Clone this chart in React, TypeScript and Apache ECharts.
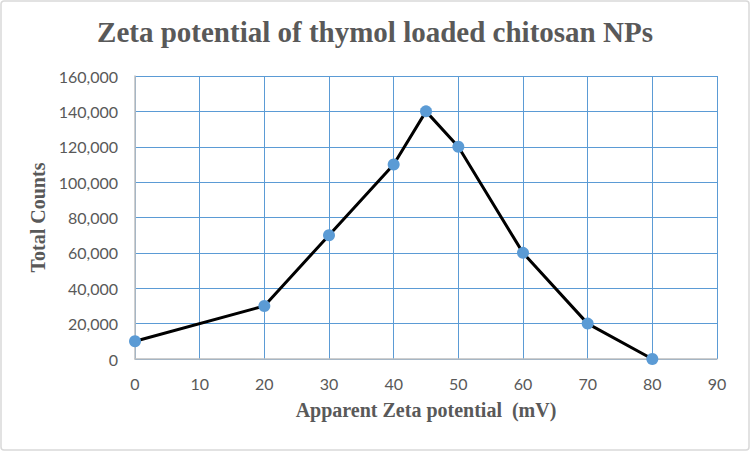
import React, { useEffect, useRef } from "react";
import * as echarts from "echarts";

const potentials = [0, 20, 30, 40, 45, 50, 60, 70, 80];
const totalCounts = [10000, 30000, 70000, 110000, 140000, 120000, 60000, 20000, 0];

const TITLE = "Zeta potential of thymol loaded chitosan NPs";
const X_NAME = "Apparent Zeta potential  (mV)";
const Y_NAME = "Total Counts";

const GRID_BLUE = "#5B9BD5";
const TEXT_GRAY = "#595959";

export default function App() {
  const ref = useRef<HTMLDivElement>(null);

  useEffect(() => {
    if (!ref.current) return;
    const chart = echarts.init(ref.current, undefined, { renderer: "svg" });
    chart.setOption({
      animation: false,
      backgroundColor: "#ffffff",
      title: {
        text: TITLE,
        left: "center",
        top: 12,
        textStyle: {
          fontFamily: "Liberation Serif",
          fontWeight: "bold",
          fontSize: 29,
          color: TEXT_GRAY,
        },
      },
      graphic: [
        {
          type: "rect",
          shape: { x: 1, y: 1, width: 748, height: 449, r: 3 },
          style: { fill: "none", stroke: "#D9D9D9", lineWidth: 1.5 },
          silent: true,
        },
      ],
      grid: { left: 135, right: 33, top: 76, bottom: 92 },
      xAxis: {
        type: "value",
        min: 0,
        max: 90,
        interval: 10,
        name: X_NAME,
        nameLocation: "middle",
        nameGap: 51,
        nameTextStyle: {
          fontFamily: "Liberation Serif",
          fontWeight: "bold",
          fontSize: 20,
          color: TEXT_GRAY,
          verticalAlign: "middle",
        },
        axisLine: { show: true, lineStyle: { color: "#BFBFBF", width: 1.5 } },
        axisTick: { show: false },
        axisLabel: {
          margin: 16,
          fontFamily: "Lato",
          fontSize: 16,
          color: TEXT_GRAY,
        },
        splitLine: { show: true, lineStyle: { color: GRID_BLUE, width: 1 } },
      },
      yAxis: {
        type: "value",
        min: 0,
        max: 160000,
        interval: 20000,
        name: Y_NAME,
        nameLocation: "middle",
        nameGap: 95,
        nameTextStyle: {
          fontFamily: "Liberation Serif",
          fontWeight: "bold",
          fontSize: 20,
          color: TEXT_GRAY,
          verticalAlign: "middle",
        },
        axisLine: { show: true, lineStyle: { color: "#BFBFBF", width: 1.5 } },
        axisTick: { show: false },
        axisLabel: {
          margin: 17,
          fontFamily: "Lato",
          fontSize: 16,
          color: TEXT_GRAY,
          formatter: (v: number) => v.toLocaleString("en-US"),
        },
        splitLine: { show: true, lineStyle: { color: GRID_BLUE, width: 1 } },
      },
      series: [
        {
          type: "line",
          data: potentials.map((x, i) => [x, totalCounts[i]]),
          symbol: "circle",
          symbolSize: 12,
          lineStyle: { color: "#000000", width: 3 },
          itemStyle: { color: GRID_BLUE },
          z: 3,
        },
      ],
    });
    return () => chart.dispose();
  }, []);

  return (
    <div
      ref={ref}
      style={{ position: "fixed", left: 0, top: 0, width: 750, height: 451 }}
    />
  );
}
